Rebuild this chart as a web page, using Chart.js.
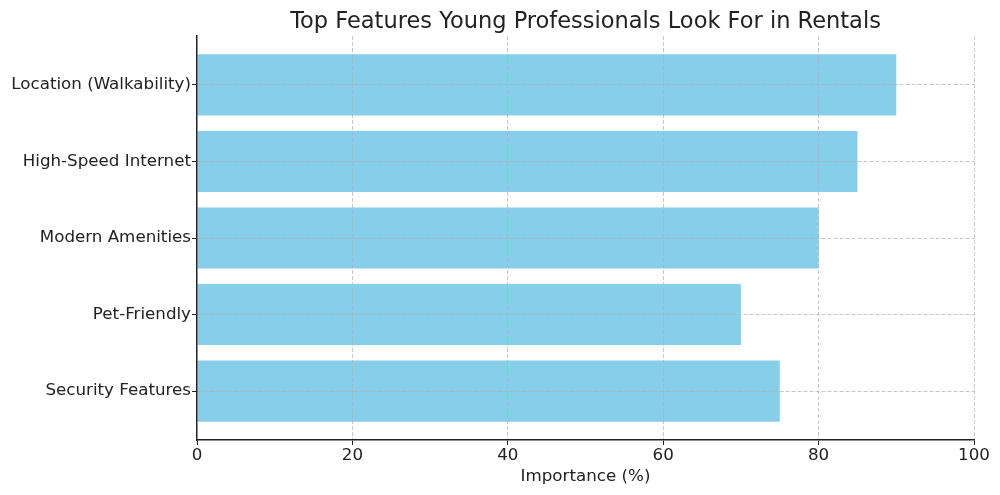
<!DOCTYPE html>
<html>
<head>
<meta charset="utf-8">
<script src="https://cdn.jsdelivr.net/npm/chart.js@4.4.1/dist/chart.umd.min.js"></script>
<style>
  html, body { margin: 0; padding: 0; background: #ffffff; }
  #wrap { width: 1000px; height: 495px; }
</style>
</head>
<body>
<div id="wrap"><canvas id="c" width="1000" height="495"></canvas></div>
<script>
const categories = ["Location (Walkability)", "High-Speed Internet", "Modern Amenities", "Pet-Friendly", "Security Features"];
const importance = [90, 85, 80, 70, 75];
const xTicks = [0, 20, 40, 60, 80, 100];
const chartTitle = "Top Features Young Professionals Look For in Rentals";
const xTitle = "Importance (%)";

const FONT = "'DejaVu Sans', sans-serif";
const TEXT = "#222222";
const GRID = "rgba(176,176,176,0.7)";

const points = importance.map((v, i) => ({ x: v, y: i }));

new Chart(document.getElementById('c'), {
  type: 'bar',
  data: {
    datasets: [{
      data: points,
      backgroundColor: '#87CEEB',
      borderWidth: 0,
      barPercentage: 0.8,
      categoryPercentage: 1.0
    }]
  },
  options: {
    indexAxis: 'y',
    responsive: false,
    devicePixelRatio: 1,
    animation: false,
    layout: { padding: { left: 0, right: 26, top: 0, bottom: 8 } },
    plugins: {
      legend: { display: false },
      tooltip: { enabled: false },
      title: {
        display: true,
        text: chartTitle,
        fullSize: false,
        color: TEXT,
        font: { family: FONT, size: 22.5, weight: 'normal' },
        padding: { top: 9, bottom: 0 }
      }
    },
    scales: {
      x: {
        type: 'linear',
        min: 0,
        max: 100,
        z: 1,
        afterBuildTicks: (axis) => { axis.ticks = xTicks.map(v => ({ value: v })); },
        afterFit: (axis) => { axis.height = 47; },
        ticks: { color: TEXT, font: { family: FONT, size: 16.7 }, padding: 1 },
        grid: {
          z: 1,
          color: (ctx) => (ctx.tick && ctx.tick.value === 0) ? 'rgba(0,0,0,0)' : GRID,
          lineWidth: 1,
          drawTicks: true,
          tickLength: 5,
          tickColor: TEXT,
          tickBorderDash: []
        },
        border: { display: true, z: 2, color: TEXT, width: 1.5, dash: [4, 2] },
        title: {
          display: true,
          text: xTitle,
          color: TEXT,
          font: { family: FONT, size: 16.7 },
          padding: { top: 0, bottom: 0 }
        }
      },
      y: {
        type: 'linear',
        reverse: true,
        offset: false,
        min: -0.64,
        max: 4.64,
        z: 1,
        afterBuildTicks: (axis) => { axis.ticks = categories.map((c, i) => ({ value: i })); },
        afterFit: (axis) => { axis.width = 197; },
        ticks: {
          color: TEXT,
          font: { family: FONT, size: 16.7 },
          padding: 1,
          callback: (v) => categories[v]
        },
        grid: {
          z: 1,
          offset: false,
          color: GRID,
          lineWidth: 1,
          drawTicks: true,
          tickLength: 5,
          tickColor: TEXT,
          tickBorderDash: []
        },
        border: { display: true, z: 2, color: TEXT, width: 1.5, dash: [4, 2] }
      }
    }
  }
});
</script>
</body>
</html>
